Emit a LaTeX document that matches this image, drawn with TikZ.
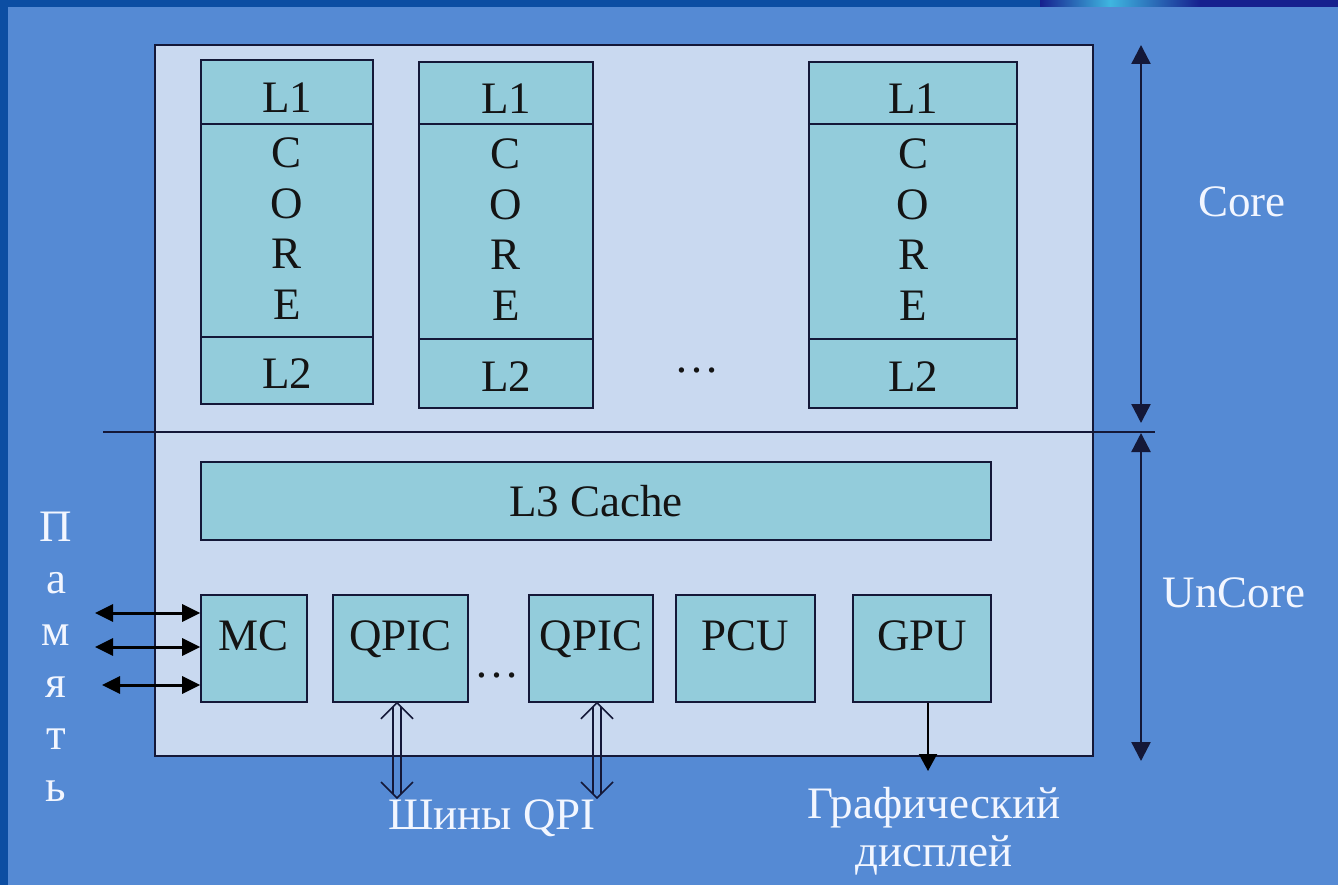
\documentclass[tikz,border=0pt]{standalone}
\usepackage{fontspec}
\setmainfont{Liberation Serif}
\usetikzlibrary{arrows.meta}
\definecolor{bgblue}{HTML}{558AD4}
\definecolor{edgeblue}{HTML}{0C4EA3}
\definecolor{navytop}{HTML}{16208E}
\definecolor{cyantop}{HTML}{3FB6E0}
\definecolor{chipfill}{HTML}{C9D9F0}
\definecolor{tealfill}{HTML}{93CCDB}
\definecolor{linecol}{HTML}{141838}
\definecolor{txtcol}{HTML}{141414}
\definecolor{wtxt}{HTML}{F2F6FF}
\tikzset{
  bigfont/.style={font=\fontsize{45}{50.5}\selectfont},
  chipbox/.style={draw=linecol, line width=1.8pt, fill=chipfill, inner sep=0pt},
  box/.style={draw=linecol, line width=1.6pt, fill=tealfill, text=txtcol, inner sep=0pt, bigfont},
  lonebox/.style={box, text height=42pt, text depth=0pt},
  ltwobox/.style={box, text height=35pt, text depth=0pt},
  ubox/.style={box, minimum height=107pt, text height=31pt, text depth=28pt},
  stack/.style={text=txtcol, inner sep=0pt, align=center, anchor=north, bigfont},
  wlabel/.style={text=wtxt, inner sep=0pt, bigfont},
  dark/.style={text=txtcol, inner sep=0pt, bigfont},
  memarrow/.style={draw=black, line width=3pt, {Triangle[length=18pt,width=17pt]}-{Triangle[length=18pt,width=17pt]}},
  sidearrow/.style={draw=linecol, line width=2.4pt, {Triangle[length=19pt,width=19pt]}-{Triangle[length=19pt,width=19pt]}},
  gpuarrow/.style={draw=black, line width=2pt, -{Triangle[length=17pt,width=18pt]}},
  qpiline/.style={draw=linecol, line width=1.4pt},
  qpichev/.style={draw=linecol, line width=1.6pt},
  sepline/.style={draw=linecol, line width=1.8pt}
}
\begin{document}
\begin{tikzpicture}[x=1pt,y=-1pt]
\useasboundingbox (0,0) rectangle (1338,885);
% background
\fill[bgblue] (0,0) rectangle (1338,885);
\fill[edgeblue] (0,0) rectangle (8,885);
\fill[edgeblue] (0,0) rectangle (1040,7);
\shade[left color=navytop, right color=cyantop] (1040,0) rectangle (1110,7);
\shade[left color=cyantop, right color=navytop] (1110,0) rectangle (1200,7);
\fill[navytop] (1200,0) rectangle (1338,7);

% chip
\node[chipbox, minimum width=938pt, minimum height=711pt] (chip) at (624,400.5) {};

% core columns
\node[lonebox, minimum width=172pt, minimum height=64pt] (a1) at (287,92) {L1};
\node[box, minimum width=172pt, minimum height=213pt] (ac) at (287,230.5) {};
\node[ltwobox, minimum width=172pt, minimum height=67pt] (a2) at (287,370.5) {L2};
\node[stack] (at) at (287,138) {C\\O\\R\\E};

\node[lonebox, minimum width=174pt, minimum height=62pt] (b1) at (506,93) {L1};
\node[box, minimum width=174pt, minimum height=215pt] (bc) at (506,231.5) {};
\node[ltwobox, minimum width=174pt, minimum height=69pt] (b2) at (506,373.5) {L2};
\node[stack] (bt) at (506,139) {C\\O\\R\\E};

\node[lonebox, minimum width=208pt, minimum height=62pt] (c1) at (913,93) {L1};
\node[box, minimum width=208pt, minimum height=215pt] (cc) at (913,231.5) {};
\node[ltwobox, minimum width=208pt, minimum height=69pt] (c2) at (913,373.5) {L2};
\node[stack] (ct) at (913,139) {C\\O\\R\\E};

\node[dark] (dots1) at (697,370) {\dots};

% separator
\coordinate (sepL) at (103,432);
\coordinate (sepR) at (1155,432);
\draw[sepline] (sepL) -- (sepR);

% uncore
\node[box, text height=30pt, text depth=0pt, minimum width=790pt, minimum height=78pt] (l3) at (596,501) {L3 Cache};
\node[ubox, minimum width=106pt] (mc) at (254,648.5) {MC};
\node[ubox, minimum width=135pt] (q1) at (400.5,648.5) {QPIC};
\node[ubox, minimum width=124pt] (q2) at (591,648.5) {QPIC};
\node[ubox, minimum width=139pt] (pcu) at (745.5,648.5) {PCU};
\node[ubox, minimum width=138pt] (gpu) at (922,648.5) {GPU};
\node[dark] (dots2) at (497,675) {\dots};

% memory arrows
\coordinate (m1) at (95,613);
\coordinate (m2) at (95,647);
\coordinate (m3) at (102,685);
\draw[memarrow] (m1) -- (m1 -| mc.west);
\draw[memarrow] (m2) -- (m2 -| mc.west);
\draw[memarrow] (m3) -- (m3 -| mc.west);

% memory label
\node[wlabel, align=center, anchor=north, font=\fontsize{45}{52}\selectfont] (mem) at (56,512) {П\\а\\м\\я\\т\\ь};

% QPI buses
\coordinate (qb1) at (397,798);
\coordinate (qb2) at (597,798);
\coordinate (qt1) at (qb1 |- q1.south);
\coordinate (qt2) at (qb2 |- q2.south);
\foreach \t/\b in {qt1/qb1, qt2/qb2}{
  \draw[qpiline] ([xshift=-4pt,yshift=-4pt]\t) -- ([xshift=-4pt,yshift=4pt]\b);
  \draw[qpiline] ([xshift=4pt,yshift=-4pt]\t) -- ([xshift=4pt,yshift=4pt]\b);
  \draw[qpichev] ([xshift=-16pt,yshift=-16pt]\t) -- (\t) -- ([xshift=16pt,yshift=-16pt]\t);
  \draw[qpichev] ([xshift=-16pt,yshift=16pt]\b) -- (\b) -- ([xshift=16pt,yshift=16pt]\b);
}
\node[wlabel, anchor=base] (qpi) at (492,829) {Шины QPI};

% GPU display
\coordinate (disp) at (928,771);
\draw[gpuarrow] (disp |- gpu.south) -- (disp);
\node[wlabel, align=center, anchor=north, font=\fontsize{45}{48}\selectfont] (gd) at (934,787) {Графический\\дисплей};

% side arrows
\coordinate (s1) at (1141,45);
\coordinate (s2) at (1141,423);
\coordinate (s3) at (1141,433);
\coordinate (s4) at (1141,761);
\draw[sidearrow] (s1) -- (s2);
\draw[sidearrow] (s3) -- (s4);
\node[wlabel, anchor=base] (corelbl) at (1242,217) {Core};
\node[wlabel, anchor=base] (uncorelbl) at (1234,607) {UnCore};
\end{tikzpicture}
\end{document}
